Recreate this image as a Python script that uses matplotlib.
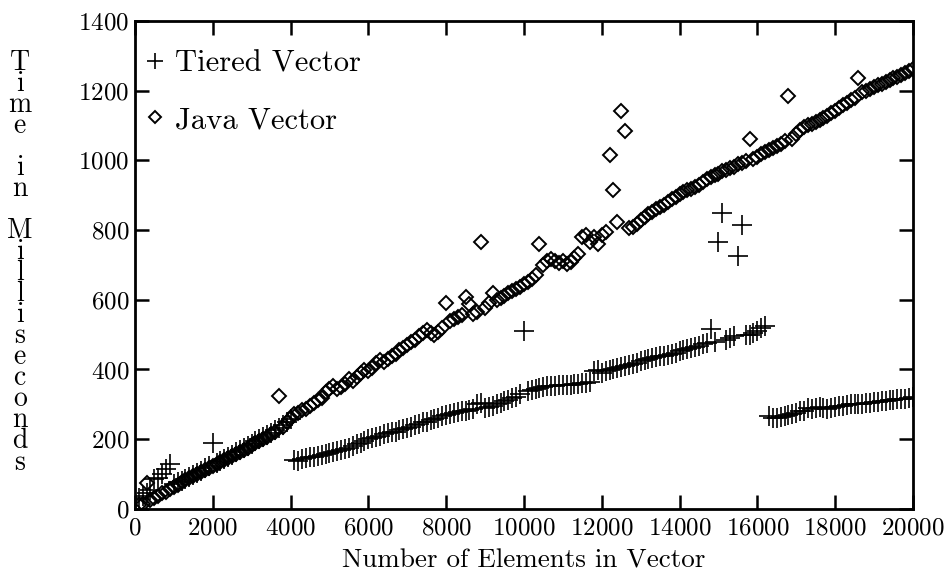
import numpy as np
import matplotlib
matplotlib.use('Agg')
from matplotlib import pyplot as plt

plt.rcParams['font.family'] = ['cmr10', 'DejaVu Serif']
plt.rcParams['axes.formatter.use_mathtext'] = True

# number of elements: one run every 100 elements
n_elements = np.arange(100, 20001, 100)

# time in ms, 10 values per 1000 elements
tiered = [30, 38, 45, 55, 85, 90, 100, 115, 128, 72,
          76, 80, 86, 92, 98, 104, 110, 116, 122, 190,
          132, 138, 144, 150, 156, 162, 168, 174, 180, 186,
          194, 200, 206, 212, 218, 226, 232, 240, 248, 258,
          140, 138, 142, 145, 148, 150, 152, 155, 158, 160,
          162, 165, 168, 172, 176, 180, 185, 190, 195, 200,
          203, 206, 210, 214, 218, 220, 222, 225, 228, 232,
          236, 240, 244, 248, 250, 254, 258, 262, 266, 270,
          272, 275, 278, 280, 282, 285, 288, 300, 305, 290,
          292, 296, 300, 305, 310, 312, 318, 322, 330, 510,
          338, 342, 345, 348, 350, 352, 352, 354, 355, 355,
          355, 356, 357, 358, 360, 362, 365, 395, 398, 390,
          395, 398, 400, 405, 408, 410, 412, 415, 420, 425,
          428, 430, 432, 435, 438, 440, 442, 445, 448, 452,
          455, 458, 462, 465, 468, 472, 475, 515, 480, 765,
          850, 485, 490, 495, 725, 815, 498, 500, 505, 510,
          518, 525, 268, 262, 262, 265, 268, 270, 272, 275,
          280, 282, 290, 288, 290, 292, 290, 288, 290, 292,
          295, 295, 298, 300, 300, 302, 302, 305, 305, 308,
          308, 310, 310, 312, 312, 314, 315, 316, 318, 320]

java = [10, 15, 75, 25, 30, 38, 45, 50, 57, 63,
        70, 76, 82, 88, 94, 100, 106, 112, 118, 124,
        129, 135, 141, 147, 152, 158, 164, 170, 176, 182,
        188, 195, 201, 207, 214, 221, 325, 236, 250, 262,
        272, 276, 283, 288, 296, 305, 312, 318, 335, 345,
        352, 345, 350, 358, 372, 368, 378, 390, 398, 395,
        405, 420, 428, 422, 430, 438, 445, 455, 462, 470,
        478, 485, 495, 505, 512, 505, 500, 508, 520, 590,
        538, 545, 550, 556, 608, 588, 560, 565, 765, 575,
        590, 618, 600, 605, 612, 620, 625, 630, 638, 645,
        652, 660, 670, 760, 700, 710, 718, 712, 705, 712,
        702, 708, 720, 730, 780, 785, 765, 780, 760, 785,
        795, 1015, 915, 822, 1140, 1085, 805, 810, 818, 828,
        838, 845, 852, 860, 866, 872, 880, 888, 895, 902,
        910, 915, 918, 922, 930, 938, 945, 952, 958, 962,
        968, 972, 978, 982, 988, 992, 998, 1060, 1005, 1010,
        1018, 1025, 1030, 1035, 1042, 1048, 1055, 1185, 1062, 1075,
        1088, 1095, 1100, 1105, 1110, 1115, 1122, 1128, 1135, 1142,
        1150, 1158, 1165, 1172, 1180, 1235, 1195, 1200, 1205, 1210,
        1215, 1220, 1226, 1230, 1235, 1240, 1246, 1250, 1255, 1262]

fig = plt.figure(figsize=(9.5, 5.79), dpi=100)
ax = fig.add_axes([0.142, 0.121, 0.819, 0.843])

ax.plot(n_elements, tiered, linestyle='none', marker='+', color='black',
        markersize=15, markeredgewidth=1.2, label='Tiered Vector')
ax.plot(n_elements, java, linestyle='none', marker='D', color='black',
        markersize=7.5, markeredgewidth=1.4, markerfacecolor='none',
        label='Java Vector')

ax.set_xlim(0, 20000)
ax.set_ylim(0, 1400)
ax.set_xticks(np.arange(0, 20001, 2000))
ax.set_yticks(np.arange(0, 1401, 200))
ax.tick_params(direction='in', length=10, width=1.8, labelsize=18,
               top=True, right=True, pad=6)
ax.tick_params(axis='y', pad=4)
for s in ax.spines.values():
    s.set_linewidth(2.0)

ax.set_xlabel('Number of Elements in Vector', fontsize=19.5, labelpad=7)
ax.set_ylabel('\n'.join('Time in Milliseconds'), fontsize=20, rotation=0,
              va='center', ha='center', linespacing=0.74)
ax.yaxis.set_label_coords(-0.148, 0.505)

ax.legend(loc='upper left', bbox_to_anchor=(0.012, 0.94), frameon=False,
          fontsize=22, handlelength=0.7, handletextpad=0.3,
          labelspacing=0.95, borderaxespad=0, borderpad=0, markerscale=0.8)

plt.savefig('out.png', dpi=100)
